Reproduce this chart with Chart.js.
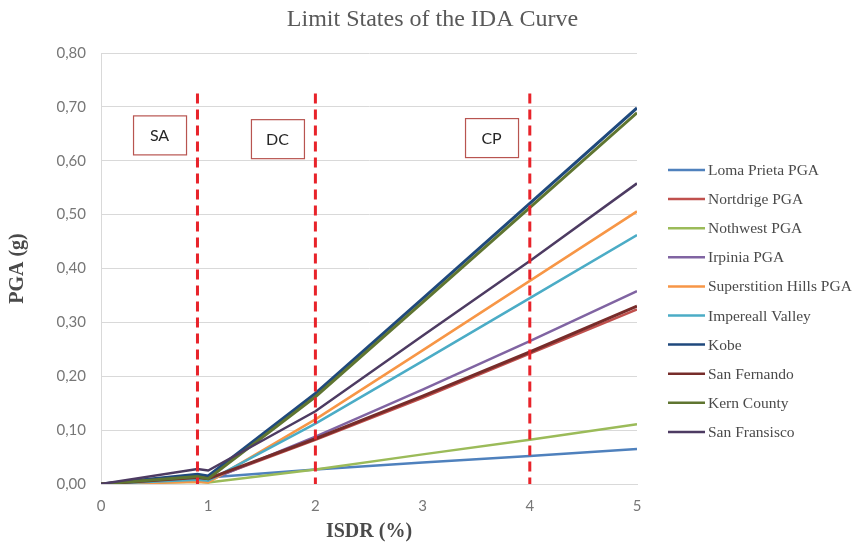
<!DOCTYPE html>
<html>
<head>
<meta charset="utf-8">
<script src="https://cdn.jsdelivr.net/npm/chart.js@4.4.1/dist/chart.umd.min.js"></script>
<style>
html,body{margin:0;padding:0;background:#fff;}
#wrap{width:865px;height:548px;}
</style>
</head>
<body>
<div id="wrap"><canvas id="c" width="865" height="548"></canvas></div>
<script>
// ---- data ----
const isdr = [0, 0.9, 1, 2, 3, 4, 5];
const seriesNames = ["Loma Prieta PGA","Nortdrige PGA","Nothwest PGA","Irpinia PGA","Superstition Hills PGA","Impereall Valley","Kobe","San Fernando","Kern County","San Fransisco"];
const lomaPrieta   = [0, 0.010, 0.012, 0.027, 0.040, 0.052, 0.065];
const nortdrige    = [0, 0.010, 0.008, 0.082, 0.160, 0.242, 0.324];
const nothwest     = [0, 0.004, 0.003, 0.027, 0.055, 0.082, 0.111];
const irpinia      = [0, 0.008, 0.006, 0.088, 0.175, 0.265, 0.358];
const superstition = [0, 0.004, 0.003, 0.120, 0.248, 0.377, 0.506];
const impereall    = [0, 0.008, 0.006, 0.112, 0.228, 0.345, 0.462];
const kobe         = [0, 0.018, 0.015, 0.168, 0.344, 0.521, 0.698];
const sanFernando  = [0, 0.012, 0.010, 0.084, 0.163, 0.245, 0.330];
const kernCounty   = [0, 0.014, 0.010, 0.162, 0.337, 0.513, 0.689];
const sanFransisco = [0, 0.028, 0.025, 0.135, 0.275, 0.414, 0.558];
const limitStates = [0.9, 2, 4];
const limitLabels = ["SA", "DC", "CP"];
const yTicks = [0, 0.1, 0.2, 0.3, 0.4, 0.5, 0.6, 0.7, 0.8];
const chartTitle = 'Limit States of the IDA Curve';

const allSeries = [lomaPrieta, nortdrige, nothwest, irpinia, superstition, impereall, kobe, sanFernando, kernCounty, sanFransisco];
const colors = ["#4F81BD","#C0504D","#9BBB59","#8064A2","#F79646","#4BACC6","#1F497D","#772C2A","#5F7530","#4D3B62"];
const widths = [2.5,2.5,2.5,2.5,2.5,2.5,3,3,3,2.5];

const datasets = allSeries.map((s, i) => ({
  label: seriesNames[i],
  data: isdr.map((x, j) => ({x: x, y: s[j]})),
  borderColor: colors[i],
  backgroundColor: colors[i],
  borderWidth: widths[i],
  pointRadius: 0,
  tension: 0,
  fill: false,
  order: 20 - i
}));

const limitPlugin = {
  id: 'limits',
  afterDatasetsDraw(chart) {
    const ctx = chart.ctx, xs = chart.scales.x, ys = chart.scales.y;
    ctx.save();
    ctx.strokeStyle = '#E8232A';
    ctx.lineWidth = 3;
    ctx.setLineDash([10, 6]);
    limitStates.forEach(v => {
      const px = xs.getPixelForValue(v);
      ctx.beginPath();
      ctx.moveTo(px, ys.getPixelForValue(0.725));
      ctx.lineTo(px, ys.getPixelForValue(0));
      ctx.stroke();
    });
    ctx.setLineDash([]);
    const centers = [[0.546, 0.648], [1.646, 0.641], [3.643, 0.643]];
    ctx.font = '16px Lato, "Open Sans", sans-serif';
    ctx.textAlign = 'center';
    ctx.textBaseline = 'middle';
    limitLabels.forEach((t, i) => {
      const cx = xs.getPixelForValue(centers[i][0]);
      const cy = ys.getPixelForValue(centers[i][1]);
      const w = 53, h = 39;
      ctx.fillStyle = '#fff';
      ctx.fillRect(cx - w/2, cy - h/2, w, h);
      ctx.strokeStyle = '#B85450';
      ctx.lineWidth = 1.2;
      ctx.strokeRect(cx - w/2 + 0.5, cy - h/2 + 0.5, w, h);
      ctx.fillStyle = '#262626';
      ctx.fillText(t, cx, cy + 1);
    });
    ctx.restore();
  },
  afterDraw(chart) {
    const ctx = chart.ctx;
    ctx.save();
    // title
    ctx.font = '24px "Liberation Serif", serif';
    ctx.fillStyle = '#595959';
    ctx.textAlign = 'center';
    ctx.textBaseline = 'middle';
    ctx.fillText(chartTitle, 432.5, 20);
    // legend
    ctx.font = '15.5px "Liberation Serif", "DejaVu Serif", serif';
    ctx.textAlign = 'left';
    chart.data.datasets.forEach((d, i) => {
      const y = 170 + i * 29.1;
      ctx.strokeStyle = d.borderColor;
      ctx.lineWidth = 2.5;
      ctx.beginPath();
      ctx.moveTo(668, y);
      ctx.lineTo(705, y);
      ctx.stroke();
      ctx.fillStyle = '#4a4a4a';
      ctx.fillText(d.label, 708, y + 1);
    });
    ctx.restore();
  }
};

new Chart(document.getElementById('c'), {
  type: 'line',
  data: { datasets },
  options: {
    responsive: false,
    animation: false,
    layout: { padding: { top: 53, right: 228, bottom: 0, left: 0 } },
    plugins: {
      legend: { display: false },
      tooltip: { enabled: false },
      title: { display: false }
    },
    scales: {
      x: {
        type: 'linear',
        min: 0, max: 5,
        ticks: { stepSize: 1, color: '#777', font: { family: 'Lato, "Open Sans", sans-serif', size: 15 }, padding: 13 },
        grid: { display: false, drawTicks: false },
        border: { display: true, color: '#D9D9D9', width: 1 },
        title: { display: true, text: 'ISDR (%)', color: '#4a4a4a', font: { family: '"Liberation Serif", serif', size: 20, weight: 'bold' }, padding: { top: 0, bottom: 4 } },
        afterFit(s) { s.height = 64; }
      },
      y: {
        type: 'linear',
        min: 0, max: 0.8,
        afterBuildTicks(s) { s.ticks = yTicks.map(v => ({ value: v })); },
        ticks: { color: '#777', font: { family: 'Lato, "Open Sans", sans-serif', size: 15 }, padding: 15,
          callback: v => v.toFixed(2).replace('.', ',') },
        grid: { color: '#D9D9D9', drawTicks: false, lineWidth: 1 },
        border: { display: true, color: '#D9D9D9', width: 1 },
        title: { display: true, text: 'PGA (g)', color: '#4a4a4a', font: { family: '"Liberation Serif", serif', size: 20, weight: 'bold' }, padding: { top: 6, bottom: 0 } },
        afterFit(s) { s.width = 101; }
      }
    }
  },
  plugins: [limitPlugin]
});
</script>
</body>
</html>
